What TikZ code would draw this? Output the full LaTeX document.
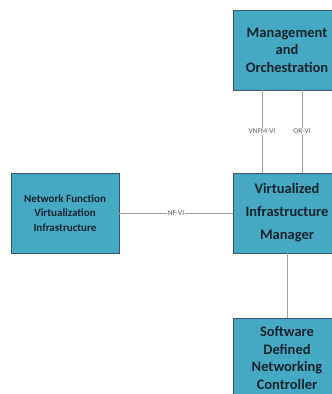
\documentclass[tikz,border=0pt]{standalone}
\usepackage{fontspec}
\setmainfont{Carlito}[BoldFont={Carlito Bold}]
\definecolor{boxfill}{HTML}{45A9C4}
\definecolor{boxline}{HTML}{3A5560}
\definecolor{txt}{HTML}{14222E}
\definecolor{conn}{HTML}{A0A0A0}
\begin{document}
\begin{tikzpicture}[x=1pt,y=1pt,
  blk/.style={draw=boxline,line width=0.5pt,fill=boxfill,text=txt,align=center,inner sep=0pt},
  lbl/.style={fill=white,text=black!65,font=\fontsize{7.3}{8}\selectfont,inner sep=1pt},
  wire/.style={draw=conn,line width=0.7pt}]
\useasboundingbox (0,0) rectangle (332,-394);
\node[blk,minimum width=108,minimum height=80,font=\fontsize{14.5}{17.5}\selectfont\bfseries] (mano) at (287,-50) {Management\\and\\Orchestration};
\node[blk,minimum width=108,minimum height=80,font=\fontsize{14.5}{23}\selectfont\bfseries] (vim) at (287,-213) {Virtualized\\Infrastructure\\Manager};
\node[blk,minimum width=108,minimum height=80,font=\fontsize{11}{14.5}\selectfont\bfseries] (nfvi) at (65,-213) {Network Function\\Virtualization\\Infrastructure};
\node[blk,minimum width=108,minimum height=80,font=\fontsize{14.5}{17.5}\selectfont\bfseries,anchor=north] (sdn) at (287,-318) {Software\\Defined\\Networking\\Controller};
\draw[wire] (mano.south -| 262,0) -- node[lbl]{VNFM-VI} (vim.north -| 262,0);
\draw[wire] (mano.south -| 302,0) -- node[lbl]{OR-VI} (vim.north -| 302,0);
\draw[wire] (nfvi) -- node[lbl]{NF-VI} (vim);
\draw[wire] (vim) -- (sdn);
\end{tikzpicture}
\end{document}
